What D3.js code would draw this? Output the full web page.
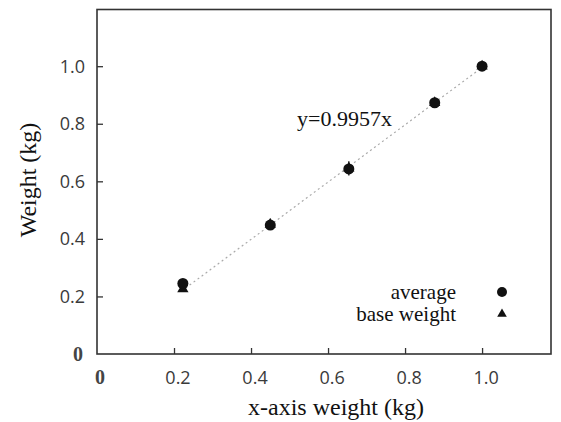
<!DOCTYPE html>
<html><head><meta charset="utf-8">
<script src="https://cdn.jsdelivr.net/npm/d3@7"></script>
<style>body{margin:0;background:#fff}</style>
</head><body><svg id="c" width="561" height="422"></svg>
<script>
const xTicks = [0, 0.2, 0.4, 0.6, 0.8, 1.0];
const yTicks = [0, 0.2, 0.4, 0.6, 0.8, 1.0];
const xTickLabels = ["0", "0.2", "0.4", "0.6", "0.8", "1.0"];
const yTickLabels = ["0", "0.2", "0.4", "0.6", "0.8", "1.0"];
const xValues = [0.223, 0.45, 0.654, 0.877, 1.0];
const averageValues = [0.245, 0.448, 0.643, 0.873, 1.0];
const baseValues = [0.226, 0.45, 0.645, 0.873, 1.0];
const errLow = [0.235, 0.44, 0.62, 0.865, 0.995];
const errHigh = [0.255, 0.47, 0.67, 0.88, 1.005];
const slope = 0.9957;
const fitLabel = "y=0.9957x";
const legendLabels = ["average", "base weight"];

const svg = d3.select("#c");
const L = 97, R = 551, T = 9.5, B = 354;
const x = d3.scaleLinear().domain([0, 1.179]).range([L, R]);
const y = d3.scaleLinear().domain([0, 1.197]).range([B, T]);
const sans = "Open Sans";
const serif = "Liberation Serif";

// ticks (inward)
const gx = svg.append("g").attr("transform", `translate(0,${B})`)
  .call(d3.axisBottom(x).tickValues(xTicks.slice(1)).tickSize(-6).tickFormat(""));
const gy = svg.append("g").attr("transform", `translate(${L},0)`)
  .call(d3.axisLeft(y).tickValues(yTicks.slice(1)).tickSize(-6).tickFormat(""));
[gx, gy].forEach(g => { g.select(".domain").remove(); g.selectAll("line").attr("stroke", "#333").attr("stroke-width", 1.3); });

// frame
svg.append("rect").attr("x", L).attr("y", T).attr("width", R - L).attr("height", B - T)
  .attr("fill", "none").attr("stroke", "#333").attr("stroke-width", 1.6);

// tick labels
svg.selectAll(".xl").data(xTicks).enter().append("text")
  .attr("x", (d, i) => x(d) + (i === 0 ? 3 : 4)).attr("y", 384)
  .attr("text-anchor", "middle")
  .style("font-family", (d, i) => i === 0 ? serif : sans)
  .attr("font-size", (d, i) => i === 0 ? 20 : 18)
  .attr("font-weight", (d, i) => i === 0 ? "bold" : "normal")
  .attr("fill", (d, i) => i === 0 ? "#444" : "#3a3a3a")
  .text((d, i) => xTickLabels[i]);
svg.selectAll(".yl").data(yTicks).enter().append("text")
  .attr("x", (d, i) => i === 0 ? 83 : 85).attr("y", d => y(d) + 6.5)
  .attr("text-anchor", "end")
  .style("font-family", (d, i) => i === 0 ? serif : sans)
  .attr("font-size", (d, i) => i === 0 ? 20 : 18)
  .attr("font-weight", (d, i) => i === 0 ? "bold" : "normal")
  .attr("fill", (d, i) => i === 0 ? "#444" : "#3a3a3a")
  .text((d, i) => yTickLabels[i]);

// axis titles
svg.append("text").attr("x", 336).attr("y", 415).attr("text-anchor", "middle")
  .style("font-family", serif).attr("font-size", 24).attr("fill", "#111").text("x-axis weight (kg)");
svg.append("text").attr("transform", `translate(36,180) rotate(-90)`).attr("text-anchor", "middle")
  .style("font-family", serif).attr("font-size", 24).attr("fill", "#111").text("Weight (kg)");

// fit line
svg.append("line").attr("x1", x(0.23)).attr("y1", y(slope * 0.23)).attr("x2", x(1.0)).attr("y2", y(slope * 1.0))
  .attr("stroke", "#aaa").attr("stroke-width", 1.2).attr("stroke-dasharray", "2,3");
svg.append("text").attr("x", 297).attr("y", 126).style("font-family", serif).attr("font-size", 22)
  .attr("fill", "#111").text(fitLabel);

// error bars
svg.selectAll(".eb").data(xValues).enter().append("line")
  .attr("x1", d => x(d)).attr("x2", d => x(d))
  .attr("y1", (d, i) => y(errLow[i])).attr("y2", (d, i) => y(errHigh[i]))
  .attr("stroke", "#111").attr("stroke-width", 1.3);

// base weight triangles
const tri = d3.symbol().type(d3.symbolTriangle).size(55);
svg.selectAll(".tr").data(xValues).enter().append("path")
  .attr("d", tri).attr("transform", (d, i) => `translate(${x(d)},${y(baseValues[i])})`).attr("fill", "#111");
// averages
svg.selectAll(".ci").data(xValues).enter().append("circle")
  .attr("cx", d => x(d)).attr("cy", (d, i) => y(averageValues[i])).attr("r", 5.5).attr("fill", "#111");

// legend
svg.append("text").attr("x", 456).attr("y", 299).attr("text-anchor", "end")
  .style("font-family", serif).attr("font-size", 21).attr("fill", "#111").text(legendLabels[0]);
svg.append("text").attr("x", 456).attr("y", 321).attr("text-anchor", "end")
  .style("font-family", serif).attr("font-size", 21).attr("fill", "#111").text(legendLabels[1]);
svg.append("circle").attr("cx", 502).attr("cy", 292).attr("r", 5).attr("fill", "#111");
svg.append("path").attr("d", d3.symbol().type(d3.symbolTriangle).size(40)).attr("transform", "translate(502,314)").attr("fill", "#111");
</script></body></html>
